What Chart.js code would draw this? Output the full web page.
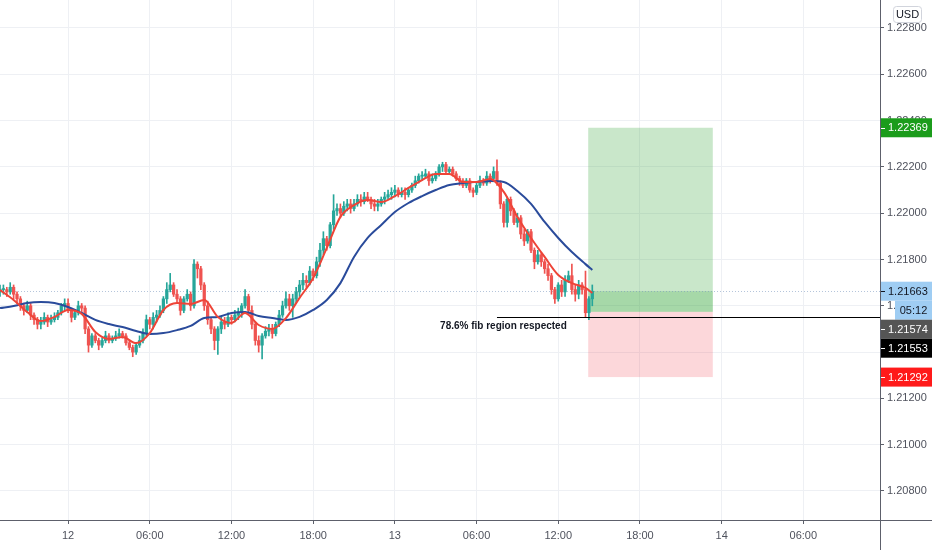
<!DOCTYPE html>
<html>
<head>
<meta charset="utf-8">
<script src="https://cdn.jsdelivr.net/npm/chart.js@4.4.1/dist/chart.umd.min.js"></script>
<style>
html,body{margin:0;padding:0;background:#ffffff;}
#c{display:block;}
</style>
</head>
<body>
<canvas id="c" width="932" height="550" style="width:932px;height:550px"></canvas>
<script>
// ---------- DATA (15m candles, hours counted from day "12" 00:00) ----------
const firstCandleHour = -5;      // 19:00 of the previous day
const candleStepHours = 0.25;    // 15 minute candles

const opens = [
1.2166,1.2167,1.2167,1.2166,1.2168,1.2165,1.2163,1.2160,1.2158,1.2160,
1.2156,1.2154,1.2152,1.2153,1.2155,1.2153,1.2154,1.2155,1.2157,1.2160,
1.2161,1.2158,1.2155,1.2157,1.2160,1.2159,1.2150,1.2143,1.2147,1.2145,
1.2143,1.2145,1.2147,1.2145,1.2146,1.2147,1.2148,1.2147,1.2144,1.2142,
1.2140,1.2143,1.2145,1.2148,1.2154,1.2152,1.2155,1.2156,1.2158,1.2163,
1.2167,1.2169,1.2165,1.2163,1.2158,1.2163,1.2165,1.2160,1.2178,1.2176,
1.2169,1.2160,1.2154,1.2150,1.2145,1.2150,1.2153,1.2152,1.2155,1.2154,
1.2156,1.2157,1.2160,1.2164,1.2158,1.2152,1.2145,1.2143,1.2147,1.2149,
1.2150,1.2148,1.2152,1.2156,1.2160,1.2163,1.2160,1.2163,1.2166,1.2169,
1.2171,1.2170,1.2175,1.2173,1.2179,1.2184,1.2189,1.2186,1.2195,1.2201,
1.2202,1.2200,1.2203,1.2204,1.2202,1.2204,1.2206,1.2205,1.2207,1.2206,
1.2204,1.2203,1.2204,1.2206,1.2207,1.2208,1.2209,1.2210,1.2208,1.2209,
1.2208,1.2210,1.2212,1.2214,1.2216,1.2216,1.2217,1.2214,1.2215,1.2217,
1.2220,1.2221,1.2218,1.2219,1.2217,1.2215,1.2214,1.2212,1.2214,1.2210,
1.2209,1.2212,1.2214,1.2213,1.2216,1.2215,1.2218,1.2213,1.2204,1.2196,
1.2206,1.2201,1.2196,1.2198,1.2191,1.2188,1.2192,1.2184,1.2179,1.2182,
1.2179,1.2176,1.2173,1.2167,1.2163,1.2169,1.2166,1.2171,1.2173,1.2167,
1.2165,1.2169,1.2167,1.2157,1.2163];

const highs = [
1.2169,1.2169,1.2168,1.2170,1.2169,1.2166,1.2164,1.2161,1.2162,1.2161,
1.2157,1.2155,1.2155,1.2157,1.2156,1.2156,1.2157,1.2158,1.2161,1.2163,
1.2163,1.2159,1.2158,1.2162,1.2161,1.2160,1.2151,1.2148,1.2148,1.2146,
1.2146,1.2149,1.2148,1.2147,1.2149,1.2150,1.2149,1.2148,1.2145,1.2143,
1.2144,1.2147,1.2150,1.2156,1.2155,1.2157,1.2158,1.2160,1.2164,1.2170,
1.2174,1.2170,1.2167,1.2164,1.2164,1.2167,1.2166,1.2180,1.2179,1.2177,
1.2170,1.2162,1.2155,1.2151,1.2151,1.2155,1.2155,1.2157,1.2156,1.2158,
1.2159,1.2161,1.2167,1.2165,1.2160,1.2153,1.2147,1.2148,1.2151,1.2152,
1.2152,1.2153,1.2158,1.2162,1.2166,1.2165,1.2165,1.2168,1.2171,1.2174,
1.2173,1.2177,1.2176,1.2181,1.2187,1.2192,1.2190,1.2196,1.2208,1.2204,
1.2204,1.2205,1.2206,1.2206,1.2206,1.2208,1.2208,1.2209,1.2209,1.2207,
1.2206,1.2206,1.2207,1.2209,1.2210,1.2211,1.2212,1.2211,1.2211,1.2211,
1.2211,1.2213,1.2216,1.2217,1.2218,1.2219,1.2218,1.2217,1.2218,1.2221,
1.2222,1.2222,1.2220,1.2220,1.2218,1.2216,1.2215,1.2215,1.2215,1.2211,
1.2213,1.2216,1.2215,1.2218,1.2217,1.2220,1.2223,1.2214,1.2205,1.2207,
1.2207,1.2202,1.2200,1.2199,1.2193,1.2193,1.2193,1.2185,1.2184,1.2183,
1.2180,1.2178,1.2174,1.2168,1.2170,1.2171,1.2173,1.2175,1.2178,1.2169,
1.2171,1.2170,1.2175,1.2164,1.2169];

const lows = [
1.2164,1.2165,1.2164,1.2165,1.2163,1.2161,1.2158,1.2156,1.2157,1.2154,
1.2152,1.2150,1.2150,1.2152,1.2151,1.2152,1.2153,1.2154,1.2156,1.2158,
1.2157,1.2153,1.2154,1.2156,1.2157,1.2148,1.2140,1.2142,1.2144,1.2141,
1.2142,1.2144,1.2144,1.2144,1.2145,1.2146,1.2146,1.2143,1.2141,1.2138,
1.2139,1.2142,1.2144,1.2147,1.2150,1.2150,1.2153,1.2155,1.2157,1.2161,
1.2166,1.2164,1.2161,1.2156,1.2157,1.2162,1.2158,1.2159,1.2172,1.2167,
1.2158,1.2152,1.2148,1.2141,1.2139,1.2148,1.2150,1.2151,1.2152,1.2153,
1.2154,1.2155,1.2159,1.2156,1.2150,1.2143,1.2140,1.2137,1.2146,1.2147,
1.2146,1.2147,1.2151,1.2155,1.2159,1.2158,1.2155,1.2161,1.2164,1.2167,
1.2168,1.2169,1.2171,1.2172,1.2177,1.2182,1.2184,1.2185,1.2193,1.2199,
1.2198,1.2199,1.2201,1.2200,1.2201,1.2203,1.2203,1.2204,1.2205,1.2202,
1.2201,1.2201,1.2203,1.2204,1.2206,1.2206,1.2207,1.2207,1.2207,1.2206,
1.2207,1.2209,1.2211,1.2213,1.2214,1.2215,1.2212,1.2213,1.2214,1.2216,
1.2218,1.2217,1.2217,1.2216,1.2214,1.2212,1.2211,1.2211,1.2209,1.2207,
1.2208,1.2211,1.2212,1.2212,1.2213,1.2214,1.2212,1.2202,1.2194,1.2194,
1.2199,1.2195,1.2194,1.2189,1.2186,1.2187,1.2183,1.2176,1.2178,1.2177,
1.2174,1.2171,1.2165,1.2161,1.2162,1.2164,1.2164,1.2170,1.2165,1.2162,
1.2163,1.2165,1.2155,1.2154,1.2160];

const closes = [
1.2167,1.2167,1.2166,1.2168,1.2165,1.2163,1.2160,1.2158,1.2160,1.2156,
1.2154,1.2152,1.2153,1.2155,1.2153,1.2154,1.2155,1.2157,1.2160,1.2161,
1.2158,1.2155,1.2157,1.2160,1.2159,1.2150,1.2143,1.2147,1.2145,1.2143,
1.2145,1.2147,1.2145,1.2146,1.2147,1.2148,1.2147,1.2144,1.2142,1.2140,
1.2143,1.2145,1.2148,1.2154,1.2152,1.2155,1.2156,1.2158,1.2163,1.2167,
1.2169,1.2165,1.2163,1.2158,1.2163,1.2165,1.2160,1.2178,1.2176,1.2169,
1.2160,1.2154,1.2150,1.2145,1.2150,1.2153,1.2152,1.2155,1.2154,1.2156,
1.2157,1.2160,1.2164,1.2158,1.2152,1.2145,1.2143,1.2147,1.2149,1.2150,
1.2148,1.2152,1.2156,1.2160,1.2163,1.2160,1.2163,1.2166,1.2169,1.2171,
1.2170,1.2175,1.2173,1.2179,1.2184,1.2189,1.2186,1.2195,1.2201,1.2202,
1.2200,1.2203,1.2204,1.2202,1.2204,1.2206,1.2205,1.2207,1.2206,1.2204,
1.2203,1.2204,1.2206,1.2207,1.2208,1.2209,1.2210,1.2208,1.2209,1.2208,
1.2210,1.2212,1.2214,1.2216,1.2216,1.2217,1.2214,1.2215,1.2217,1.2220,
1.2221,1.2218,1.2219,1.2217,1.2215,1.2214,1.2212,1.2214,1.2210,1.2209,
1.2212,1.2214,1.2213,1.2216,1.2215,1.2218,1.2213,1.2204,1.2196,1.2206,
1.2201,1.2196,1.2198,1.2191,1.2188,1.2192,1.2184,1.2179,1.2182,1.2179,
1.2176,1.2173,1.2167,1.2163,1.2169,1.2166,1.2171,1.2173,1.2167,1.2165,
1.2169,1.2167,1.2157,1.2163,1.21663];

// moving averages
const maHours = [-5,-4,-3,-2,-1,0,1,2,3,4,5,6,7,8,9,10,11,12,13,14,15,16,17,18,19,20,21,22,23,24,25,26,27,28,29,30,31,32,33,34,35,36,37,38,38.5];
const maFast = [
1.21668,1.21625,1.21573,1.21534,1.21552,1.21582,1.21565,1.21487,1.21457,1.21465,
1.21439,1.21482,1.21582,1.21612,1.21608,1.21625,1.21552,1.21526,1.21569,1.21517,
1.21500,1.21547,1.21634,1.21720,1.21850,1.21984,1.22035,1.22057,1.22048,1.22074,
1.22109,1.22143,1.22169,1.22169,1.22135,1.22135,1.22148,1.22092,1.21984,1.21893,
1.21811,1.21733,1.21698,1.21677,1.21655];
const maSlow = [
1.21590,1.21599,1.21612,1.21616,1.21612,1.21595,1.21569,1.21539,1.21521,1.21508,
1.21491,1.21478,1.21482,1.21495,1.21513,1.21547,1.21552,1.21569,1.21573,1.21556,
1.21547,1.21539,1.21552,1.21582,1.21625,1.21698,1.21811,1.21893,1.21949,1.22005,
1.22044,1.22074,1.22100,1.22122,1.22130,1.22135,1.22139,1.22135,1.22096,1.22040,
1.21962,1.21893,1.21832,1.21780,1.21755];

// axes
const xTickHours  = [0,6,12,18,24,30,36,42,48,54];
const xTickLabels = ["12","06:00","12:00","18:00","13","06:00","12:00","18:00","14","06:00"];
const yTicks = [1.208,1.210,1.212,1.214,1.216,1.218,1.220,1.222,1.224,1.226,1.228];
const xRange = [-5.0, 59.63];
const yRange = [1.206747, 1.229209];

// position tool & drawings
const targetPrice = 1.22369;
const entryPrice = 1.21574;
const stopPrice = 1.21292;
const currentPrice = 1.21663;
const hLinePrice = 1.21553;
const positionHours = [38.2, 47.35];
const hLineStartHour = 31.5;
const noteText = "78.6% fib region respected";
const noteAt = [27.32, 1.21513];
const countdownText = "05:12";
const currencyText = "USD";

// ---------- build ----------
const UP = '#26a69a', DOWN = '#ef5350';
const hours = closes.map((_, i) => firstCandleHour + i * candleStepHours);
const candleColors = closes.map((c, i) => c >= opens[i] ? UP : DOWN);
const FONT = '"Liberation Sans", Arial, sans-serif';

const overlay = {
  id: 'overlay',
  beforeDatasetsDraw(chart) {
    const {ctx, chartArea: a, scales: {x, y}} = chart;
    const x1 = x.getPixelForValue(positionHours[0]);
    const x2 = x.getPixelForValue(positionHours[1]);
    const yT = y.getPixelForValue(targetPrice);
    const yE = y.getPixelForValue(entryPrice);
    const yS = y.getPixelForValue(stopPrice);
    const yC = y.getPixelForValue(currentPrice);
    ctx.save();
    ctx.fillStyle = 'rgba(76,175,80,0.30)';
    ctx.fillRect(x1, yT, x2 - x1, yE - yT);
    ctx.fillStyle = 'rgba(76,175,80,0.28)';
    ctx.fillRect(x1, yC, x2 - x1, yE - yC);
    ctx.fillStyle = 'rgba(242,54,69,0.20)';
    ctx.fillRect(x1, yE, x2 - x1, yS - yE);
    ctx.strokeStyle = 'rgba(120,150,190,0.55)';
    ctx.lineWidth = 1;
    ctx.setLineDash([1, 2]);
    ctx.beginPath();
    ctx.moveTo(a.left, Math.round(yC) + 0.5);
    ctx.lineTo(a.right, Math.round(yC) + 0.5);
    ctx.stroke();
    ctx.restore();
  },
  afterDatasetsDraw(chart) {
    const {ctx, chartArea: a, scales: {x, y}} = chart;
    ctx.save();
    const yl = Math.round(y.getPixelForValue(hLinePrice)) + 0.5;
    ctx.strokeStyle = '#000000';
    ctx.lineWidth = 1;
    ctx.beginPath();
    ctx.moveTo(x.getPixelForValue(hLineStartHour), yl);
    ctx.lineTo(a.right, yl);
    ctx.stroke();
    ctx.fillStyle = '#131722';
    ctx.font = 'bold 10px ' + FONT;
    ctx.textBaseline = 'middle';
    ctx.textAlign = 'left';
    ctx.fillText(noteText, x.getPixelForValue(noteAt[0]), y.getPixelForValue(noteAt[1]));
    ctx.restore();
  },
  afterDraw(chart) {
    const {ctx, chartArea: a, scales: {y}} = chart;
    const W = chart.width, H = chart.height;
    ctx.save();
    ctx.strokeStyle = '#5d606b';
    ctx.lineWidth = 1;
    ctx.beginPath();
    ctx.moveTo(0, a.bottom + 0.5); ctx.lineTo(W, a.bottom + 0.5);
    ctx.moveTo(a.right + 0.5, 0); ctx.lineTo(a.right + 0.5, H);
    ctx.stroke();

    const L = a.right + 1, TW = W - L, TH = 19;
    function tag(top, text, bg, fg) {
      ctx.fillStyle = bg;
      ctx.fillRect(L, top, TW, TH);
      ctx.strokeStyle = fg;
      ctx.beginPath();
      ctx.moveTo(L, Math.round(top + TH / 2) + 0.5);
      ctx.lineTo(L + 4, Math.round(top + TH / 2) + 0.5);
      ctx.stroke();
      ctx.fillStyle = fg;
      ctx.font = '11px ' + FONT;
      ctx.textBaseline = 'middle';
      ctx.textAlign = 'left';
      ctx.fillText(text, L + 7, top + TH / 2 + 0.5);
    }
    const items = [
      {p: targetPrice, bg: '#1b9c1b', fg: '#ffffff', extra: 0},
      {p: currentPrice, bg: '#9fcdf3', fg: '#131722', extra: TH},
      {p: entryPrice, bg: '#555555', fg: '#ffffff', extra: 0},
      {p: hLinePrice, bg: '#000000', fg: '#ffffff', extra: 0},
      {p: stopPrice, bg: '#ff1a1a', fg: '#ffffff', extra: 0}
    ];
    let lastBottom = -1e9;
    items.forEach(it => {
      let top = y.getPixelForValue(it.p) - TH / 2;
      if (top < lastBottom) top = lastBottom;
      tag(top, it.p.toFixed(5), it.bg, it.fg);
      if (it.extra) {
        ctx.fillStyle = it.bg;
        ctx.fillRect(L + 14, top + TH, TW - 14, it.extra);
        ctx.fillStyle = it.fg;
        ctx.font = '11px ' + FONT;
        ctx.textAlign = 'center';
        ctx.textBaseline = 'middle';
        ctx.fillText(countdownText, L + 14 + (TW - 14) / 2, top + TH + it.extra / 2 + 0.5);
      }
      lastBottom = top + TH + it.extra;
    });

    const bx = 893.5, by = 6.5, bw = 28, bh = 16, r = 3;
    ctx.beginPath();
    ctx.moveTo(bx + r, by);
    ctx.lineTo(bx + bw - r, by); ctx.arcTo(bx + bw, by, bx + bw, by + r, r);
    ctx.lineTo(bx + bw, by + bh - r); ctx.arcTo(bx + bw, by + bh, bx + bw - r, by + bh, r);
    ctx.lineTo(bx + r, by + bh); ctx.arcTo(bx, by + bh, bx, by + bh - r, r);
    ctx.lineTo(bx, by + r); ctx.arcTo(bx, by, bx + r, by, r);
    ctx.closePath();
    ctx.fillStyle = '#ffffff';
    ctx.fill();
    ctx.strokeStyle = '#d1d4dc';
    ctx.stroke();
    ctx.fillStyle = '#131722';
    ctx.font = '11px ' + FONT;
    ctx.textAlign = 'center';
    ctx.textBaseline = 'middle';
    ctx.fillText(currencyText, bx + bw / 2, by + bh / 2 + 0.5);
    ctx.restore();
  }
};

new Chart(document.getElementById('c'), {
  type: 'bar',
  data: {
    datasets: [
      {
        type: 'line', label: 'fast', order: 0,
        data: maHours.map((h, i) => ({x: h, y: maFast[i]})),
        borderColor: '#ee4437', borderWidth: 2, pointRadius: 0,
        tension: 0.4, cubicInterpolationMode: 'monotone', fill: false
      },
      {
        type: 'line', label: 'slow', order: 0,
        data: maHours.map((h, i) => ({x: h, y: maSlow[i]})),
        borderColor: '#2a4b9b', borderWidth: 2, pointRadius: 0,
        tension: 0.4, cubicInterpolationMode: 'monotone', fill: false
      },
      {
        label: 'bodies', order: 1, grouped: false,
        data: hours.map((h, i) => ({x: h, y: [opens[i], closes[i]]})),
        backgroundColor: candleColors, borderWidth: 0,
        barThickness: 2.6, minBarLength: 1
      },
      {
        label: 'wicks', order: 2, grouped: false,
        data: hours.map((h, i) => ({x: h, y: [lows[i], highs[i]]})),
        backgroundColor: candleColors, borderWidth: 0,
        barThickness: 1
      }
    ]
  },
  options: {
    responsive: false,
    animation: false,
    events: [],
    layout: {padding: 0},
    plugins: {legend: {display: false}, tooltip: {enabled: false}},
    scales: {
      x: {
        type: 'linear', min: xRange[0], max: xRange[1], offset: false,
        grid: {offset: false, color: '#eef0f4', tickColor: '#5d606b', tickLength: 4, drawTicks: true},
        border: {display: false},
        afterBuildTicks: s => { s.ticks = xTickHours.map(v => ({value: v})); },
        afterFit: s => { s.height = 30; s.paddingLeft = 0; s.paddingRight = 0; },
        ticks: {
          autoSkip: false, maxRotation: 0, minRotation: 0, padding: 5,
          color: '#4f525d', font: {family: FONT, size: 11},
          callback: (v, i) => xTickLabels[i]
        }
      },
      y: {
        type: 'linear', position: 'right', min: yRange[0], max: yRange[1],
        grid: {offset: false, color: '#eef0f4', tickColor: '#5d606b', tickLength: 4, drawTicks: true},
        border: {display: false},
        afterBuildTicks: s => { s.ticks = yTicks.map(v => ({value: v})); },
        afterFit: s => { s.width = 52; s.paddingTop = 0; s.paddingBottom = 0; },
        ticks: {
          padding: 3, color: '#4f525d', font: {family: FONT, size: 11},
          callback: v => Number(v).toFixed(5)
        }
      }
    }
  },
  plugins: [overlay]
});
</script>
</body>
</html>
